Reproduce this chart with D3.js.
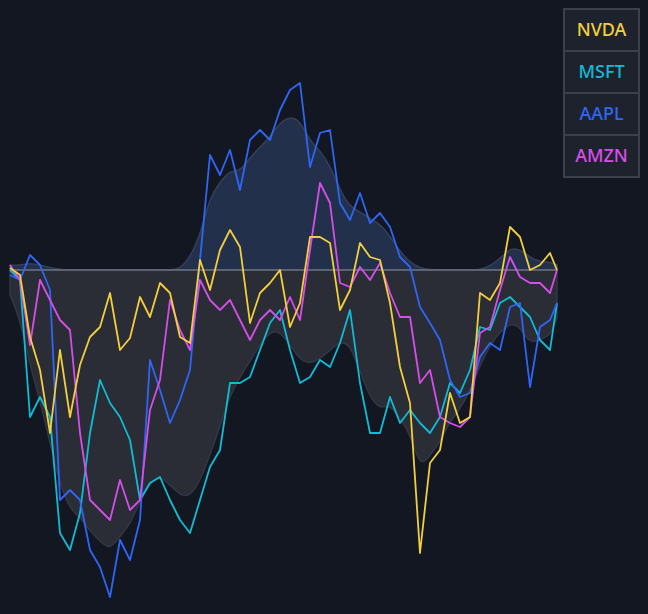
<!DOCTYPE html>
<html><head><meta charset="utf-8">
<script src="https://cdn.jsdelivr.net/npm/d3@7"></script>
<style>body{margin:0;background:#131722;}svg{display:block;}</style>
</head><body>
<script>
// trading-day grid (56 samples) and relative moves vs start
const days = d3.range(56).map(i => i < 55 ? i * 10 : 547);
const NVDA = [2,-5,-67,-100,-163,-80,-147,-95,-67,-57,-23,-80,-68,-27,-47,-13,-23,-67,-73,10,-20,20,40,23,-53,-23,-13,0,-57,-33,33,33,27,-40,-20,27,13,10,-33,-97,-133,-283,-193,-180,-123,-153,-147,-23,-30,-13,43,33,0,5,17,0];
const MSFT = [0,-10,-147,-127,-147,-263,-280,-243,-163,-110,-133,-147,-170,-230,-213,-207,-230,-250,-263,-230,-197,-180,-113,-113,-107,-80,-53,-40,-80,-113,-107,-90,-97,-73,-40,-113,-163,-163,-127,-153,-140,-153,-163,-147,-113,-123,-100,-57,-60,-33,-27,-37,-47,-70,-80,-33];
const AAPL = [-5,-10,15,5,-20,-230,-220,-230,-280,-297,-327,-270,-290,-250,-90,-120,-153,-130,-100,10,115,95,120,80,130,140,130,160,180,187,103,137,140,67,50,77,47,57,43,13,3,-37,-53,-70,-110,-127,-123,-87,-73,-80,-37,-33,-117,-57,-50,-33];
const AMZN = [5,-10,-75,-10,-30,-50,-60,-163,-230,-240,-250,-210,-240,-230,-140,-110,-30,-60,-80,-10,-30,-40,-30,-50,-70,-50,-40,-50,-27,-50,20,87,67,-13,-17,3,-10,7,-23,-47,-47,-113,-100,-147,-153,-157,-147,-63,-57,-20,13,-7,-13,-13,-23,0];
const tickers = ["NVDA", "MSFT", "AAPL", "AMZN"];
const colors = ["#f2cf3c", "#10bcd4", "#2f66f5", "#d64ee8"];
const series = [NVDA, MSFT, AAPL, AMZN];

const W = 648, H = 614;
const svg = d3.select("body").append("svg").attr("width", W).attr("height", H);
svg.append("rect").attr("width", W).attr("height", H).attr("fill", "#131722");

const x = d3.scaleLinear().domain([0, 547]).range([10, 557]);
const y = d3.scaleLinear().domain([-330, 210]).range([600, 60]);

// smoothed envelope of the extremes
let hi = days.map((d, i) => Math.max(0, ...series.map(s => s[i])));
let lo = days.map((d, i) => Math.min(0, ...series.map(s => s[i])));
let smooth = arr => arr.map((v, i) => {
    let w = [0.1, 0.2, 0.4, 0.2, 0.1], t = 0, ws = 0;
    for (let k = -2; k <= 2; k++) {
        let j = i + k;
        if (j >= 0 && j < arr.length) { t += arr[j] * w[k + 2]; ws += w[k + 2]; }
    }
    return t / ws * 0.93;
});
hi = smooth(hi); lo = smooth(lo);

const area = d3.area().x((d, i) => x(days[i])).y0(y(0)).y1(d => y(d)).curve(d3.curveBasis);
svg.append("path").datum(hi).attr("d", area)
    .attr("fill", "#22304b").attr("stroke", "#34405a").attr("stroke-width", 1.5);
svg.append("path").datum(lo).attr("d", area)
    .attr("fill", "#2a2c36").attr("stroke", "#343744").attr("stroke-width", 1.5);

svg.append("line").attr("x1", x(0)).attr("x2", x(547)).attr("y1", y(0)).attr("y2", y(0))
    .attr("stroke", "#8a90a0").attr("stroke-width", 1.2);

const line = d3.line().x((d, i) => x(days[i])).y(d => y(d)).curve(d3.curveLinear);
[1, 2, 3, 0].forEach(k => {
    svg.append("path").datum(series[k]).attr("d", line)
        .attr("fill", "none").attr("stroke", colors[k]).attr("stroke-width", 1.8)
        .attr("stroke-linejoin", "round");
});

// legend
const lg = svg.append("g").attr("transform", "translate(564,9)");
tickers.forEach((t, i) => {
    lg.append("rect").attr("x", 0).attr("y", i * 42).attr("width", 75).attr("height", 42)
        .attr("fill", "#1e222c").attr("stroke", "#3c404c").attr("stroke-width", 2);
    lg.append("text").attr("x", 37.5).attr("y", i * 42 + 27).attr("text-anchor", "middle")
        .attr("font-family", "Noto Sans").attr("font-weight", 500).attr("font-size", 18)
        .attr("fill", colors[i]).text(t);
});
</script>
</body></html>
